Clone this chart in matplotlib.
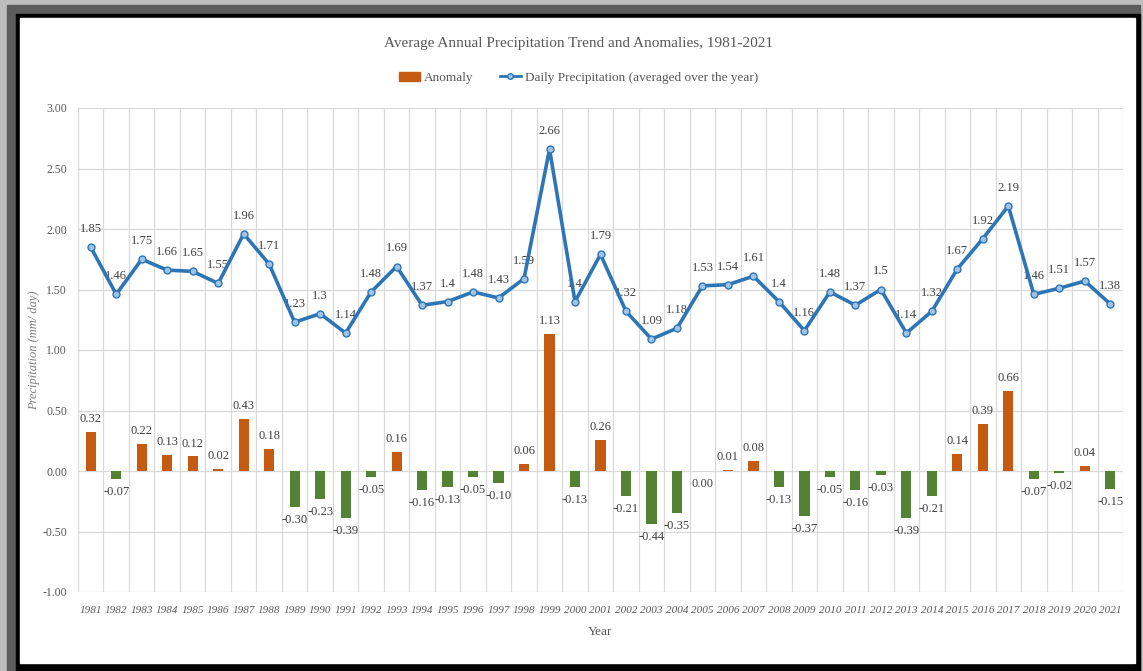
import numpy as np
import matplotlib.pyplot as plt
from matplotlib.patches import Rectangle
from matplotlib.lines import Line2D

years = list(range(1981, 2022))
precip = [1.85, 1.46, 1.75, 1.66, 1.65, 1.55, 1.96, 1.71, 1.23, 1.3,
          1.14, 1.48, 1.69, 1.37, 1.4, 1.48, 1.43, 1.59, 2.66, 1.4,
          1.79, 1.32, 1.09, 1.18, 1.53, 1.54, 1.61, 1.4, 1.16, 1.48,
          1.37, 1.5, 1.14, 1.32, 1.67, 1.92, 2.19, 1.46, 1.51, 1.57, 1.38]
anomaly = [0.32, -0.07, 0.22, 0.13, 0.12, 0.02, 0.43, 0.18, -0.30, -0.23,
           -0.39, -0.05, 0.16, -0.16, -0.13, -0.05, -0.10, 0.06, 1.13, -0.13,
           0.26, -0.21, -0.44, -0.35, 0.00, 0.01, 0.08, -0.13, -0.37, -0.05,
           -0.16, -0.03, -0.39, -0.21, 0.14, 0.39, 0.66, -0.07, -0.02, 0.04, -0.15]
yticks = [-1.0, -0.5, 0.0, 0.5, 1.0, 1.5, 2.0, 2.5, 3.0]

ORANGE = '#C55A11'
GREEN = '#548235'
BLUE = '#2E75B6'
TXT = '#595959'
LBL = '#404040'

plt.rcParams['font.family'] = ['Liberation Serif', 'DejaVu Serif']

W, H = 1143, 671
fig = plt.figure(figsize=(W / 100, H / 100), dpi=100, facecolor='#BEBEBE')


def px_rect(x0, y0, x1, y1, color):
    # rectangle given in pixel coords with origin at the top left
    fig.patches.append(Rectangle((x0 / W, 1 - y1 / H), (x1 - x0) / W, (y1 - y0) / H,
                                 transform=fig.transFigure, color=color, zorder=-10))


px_rect(7, 5, 1140, 671, '#5C5C5C')
px_rect(16, 14, 1140, 671, '#000000')
px_rect(20, 18, 1135, 663, '#FFFFFF')

ax = fig.add_axes([78 / W, 1 - 592 / H, (1123 - 78) / W, (592 - 108) / H])
ax.set_facecolor('none')

x = np.arange(len(years))
colors = [ORANGE if a > 0 else GREEN for a in anomaly]
ax.bar(x, anomaly, width=0.4, color=colors, zorder=3)
ax.plot(x, precip, color=BLUE, lw=2.6, marker='o', ms=5,
        mfc='#9DC3E6', mec=BLUE, mew=1, zorder=4)

for xi, a in zip(x, anomaly):
    if a > 0:
        ax.annotate(f'{a:.2f}', (xi, a), xytext=(0, 5), textcoords='offset points',
                    ha='center', va='bottom', fontsize=9, color=LBL)
    else:
        ax.annotate(f'{a:.2f}', (xi, a), xytext=(0, -5), textcoords='offset points',
                    ha='center', va='top', fontsize=9, color=LBL)

for xi, p in zip(x, precip):
    ax.annotate(f'{p:g}', (xi, p), xytext=(0, 13), textcoords='offset points',
                ha='center', va='center', fontsize=9, color=LBL)

ax.set_xlim(-0.5, len(years) - 0.5)
ax.set_ylim(-1.0, 3.0)
ax.set_yticks(yticks)
ax.set_yticklabels([f'{t:.2f}' for t in yticks])
ax.set_xticks(x)
ax.set_xticklabels([str(y) for y in years], fontstyle='italic')
ax.set_xticks(np.arange(-0.5, len(years)), minor=True)
ax.tick_params(axis='both', which='both', length=0, colors=TXT, labelsize=8.5)
ax.tick_params(axis='x', labelsize=8, pad=10)
ax.tick_params(axis='y', pad=8)
ax.grid(axis='y', color='#D9D9D9', lw=0.9, zorder=0)
ax.grid(axis='x', which='minor', color='#D9D9D9', lw=0.9, zorder=0)
ax.grid(axis='x', which='major', visible=False)
for s in ax.spines.values():
    s.set_visible(False)

ax.set_xlabel('Year', fontsize=9.5, color=TXT, labelpad=8)
ax.set_ylabel('Precipitation (mm/ day)', fontsize=9, color='#7F7F7F', fontstyle='italic')
ax.yaxis.set_label_coords(-0.036, 0.5)

fig.text(0.506, 1 - 43 / H, 'Average Annual Precipitation Trend and Anomalies, 1981-2021',
         ha='center', va='center', fontsize=11, color=TXT)

handles = [Rectangle((0, 0), 1, 1, color=ORANGE),
           Line2D([], [], color=BLUE, lw=2, marker='o', ms=4, mfc='#9DC3E6', mec=BLUE)]
fig.legend(handles, ['Anomaly', 'Daily Precipitation (averaged over the year)'],
           loc='center', bbox_to_anchor=(0.506, 1 - 78 / H), ncol=2, frameon=False,
           fontsize=9.5, labelcolor=TXT, handlelength=1.6, handletextpad=0.3,
           columnspacing=2.0)

fig.savefig('out.png', dpi=100, facecolor=fig.get_facecolor())
